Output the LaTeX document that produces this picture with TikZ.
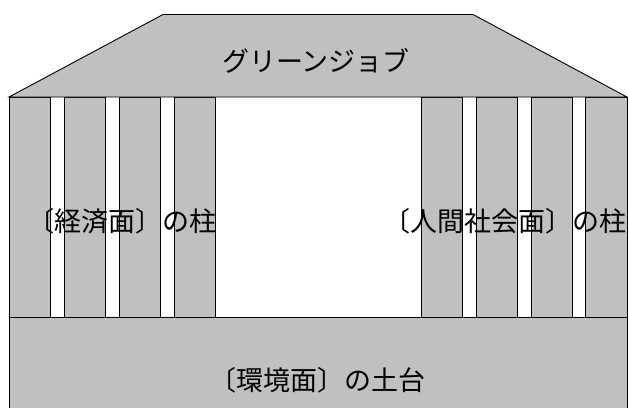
\documentclass[tikz,border=0pt]{standalone}
\usepackage{fontspec}
\newfontfamily\jp{Noto Sans CJK JP}
\definecolor{silverfill}{HTML}{C0C0C0}
\tikzset{
  part/.style={fill=silverfill, draw=black, line width=0.9pt},
  label/.style={font=\jp\fontsize{27}{30}\selectfont, inner sep=0pt, text=black},
}
\begin{document}
\begin{tikzpicture}[x=1pt,y=-1pt]
\useasboundingbox (0,0) rectangle (628,407);
% base
\draw[part] (9,317) rectangle (627,430);
% pillars left
\foreach \xx/\n in {9/L1,64/L2,119/L3,174/L4}{
  \draw[part] (\xx,97) rectangle ++(41.5,220);
}
% pillars right
\foreach \xx/\n in {421/R1,476/R2,531/R3,585.5/R4}{
  \draw[part] (\xx,97) rectangle ++(41.5,220);
}
% roof
\draw[part, line join=miter] (9,97) -- (163,14.5) -- (473,14.5) -- (627,97) -- cycle;
% texts
\node[label] (rooftext) at (316,61) {グリーンジョブ};
\node[label] (lefttext) at (122,221) {〔経済面〕の柱};
\node[label, anchor=east] (righttext) at (627,221) {〔人間社会面〕の柱};
\node[label] (basetext) at (317,380) {〔環境面〕の土台};
\end{tikzpicture}
\end{document}
